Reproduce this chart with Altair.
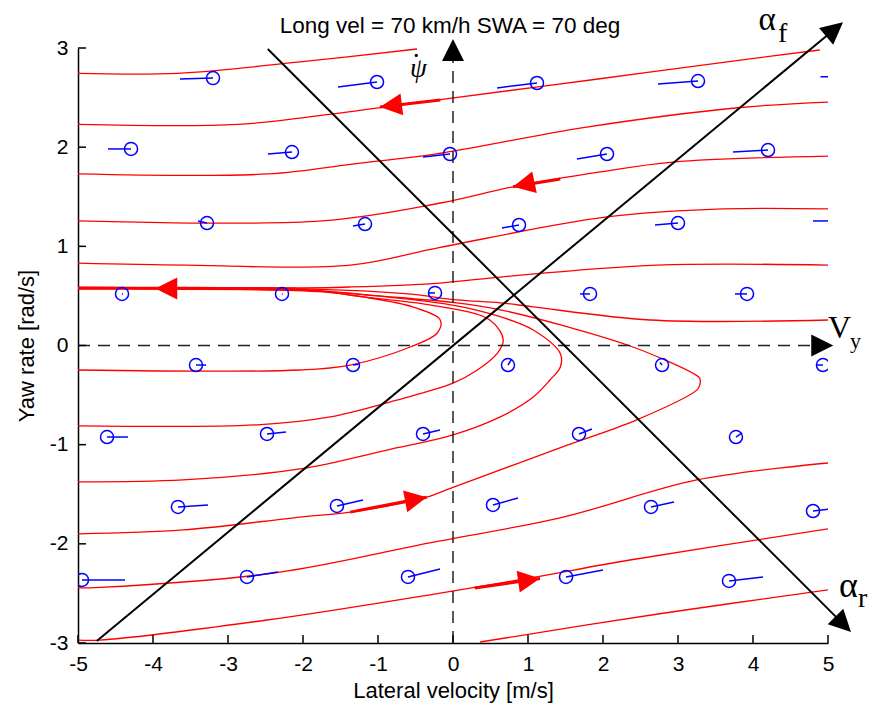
import altair as alt
import pandas as pd

TITLE = "Long vel = 70 km/h SWA = 70 deg"
X_TITLE = "Lateral velocity [m/s]"
Y_TITLE = "Yaw rate [rad/s]"
x_ticks = [-5, -4, -3, -2, -1, 0, 1, 2, 3, 4, 5]
y_ticks = [-3, -2, -1, 0, 1, 2, 3]

# ---- red phase trajectories (lateral velocity, yaw rate) ----
curve_A_x = [-5.0, -3.67, -2.04, -0.48]
curve_A_y = [2.745, 2.745, 2.86, 2.99]
curve_B_x = [-5.0, -2.87, -1.65, -0.17, 1.96, 3.96, 4.89]
curve_B_y = [2.23, 2.23, 2.33, 2.48, 2.69, 2.89, 2.98]
curve_C_x = [-5.0, -2.47, -1.24, -0.24, 1.76, 3.83, 5.0]
curve_C_y = [1.73, 1.73, 1.84, 1.93, 2.20, 2.40, 2.455]
curve_D_x = [-5.0, -1.75, -0.17, 0.8, 1.96, 2.93, 5.0]
curve_D_y = [1.256, 1.256, 1.437, 1.60, 1.75, 1.85, 1.91]
curve_E_x = [-5.0, -3.57, -1.37, -0.17, 2.05, 3.6, 5.0]
curve_E_y = [0.83, 0.81, 0.81, 0.99, 1.296, 1.377, 1.377]
curve_F_x = [-5.0, -2.0, -1.37, -0.17, 0.63, 2.72, 5.0]
curve_F_y = [0.585, 0.58, 0.59, 0.63, 0.69, 0.81, 0.81]
curve_G_x = [-5.0, -2.0, -0.6, 0.05, 0.63, 1.07, 2.63, 5.0]
curve_G_y = [0.58, 0.57, 0.52, 0.46, 0.43, 0.39, 0.257, 0.257]
curve_H_x = [-5.0, -3.6, -2.04, -1.37, -0.67, -0.35, 0.0, 1.47, 2.45, 3.25, 3.29,
             3.29, 3.2, 2.4, 1.52, 0.63, 0.05, -1.0, -2.0, -5.0]
curve_H_y = [-1.90, -1.86, -1.73, -1.68, -1.59, -1.53, -1.43, -1.02, -0.75, -0.45, -0.40,
             -0.33, -0.28, -0.015, 0.19, 0.36, 0.43, 0.50, 0.555, 0.575]
curve_I_x = [-5.0, -3.6, -2.04, -0.88, 0.0, 0.63, 1.07, 1.29, 1.43, 1.43, 1.07, 0.63,
             0.05, -1.0, -2.0, -5.0]
curve_I_y = [-1.376, -1.356, -1.245, -1.054, -0.902, -0.72, -0.52, -0.35, -0.22, -0.08,
             0.156, 0.29, 0.40, 0.50, 0.56, 0.57]
curve_J_x = [-5.0, -2.61, -1.64, -0.75, 0.0, 0.32, 0.59, 0.67, 0.49, -0.31, -1.2, -2.0, -5.0]
curve_J_y = [-0.81, -0.80, -0.72, -0.55, -0.38, -0.25, -0.08, 0.056, 0.257, 0.409, 0.49,
             0.565, 0.58]
curve_K_x = [-5.0, -2.04, -1.37, -0.57, -0.21, -0.17, -0.53, -1.2, -1.73, -5.0]
curve_K_y = [-0.247, -0.247, -0.197, -0.015, 0.126, 0.257, 0.388, 0.49, 0.54, 0.58]
curve_L_x = [-5.0, -4.71, -2.35, -0.31, 1.47, 3.25, 5.0]
curve_L_y = [-2.445, -2.44, -2.29, -1.99, -1.73, -1.356, -1.185]
curve_M_x = [-5.0, -4.71, -2.48, -0.17, 1.03, 2.36, 5.0]
curve_M_y = [-2.97, -2.97, -2.768, -2.496, -2.344, -2.163, -1.85]
curve_N_x = [0.36, 2.8, 5.0]
curve_N_y = [-2.99, -2.70, -2.465]

# ---- blue quiver glyphs: circle centre and tail end ----
quiver_x = [-3.2, -1.013, 1.12, 3.267, 5.43,
            -4.293, -2.147, -0.04, 2.053, 4.2,
            -3.28, -1.173, 0.88, 3.0, 5.2,
            -4.413, -2.28, -0.24, 1.827, 3.92,
            -3.427, -1.333, 0.733, 2.787, 4.933,
            -4.613, -2.48, -0.4, 1.68, 3.773,
            -3.667, -1.547, 0.533, 2.64, 4.8,
            -4.947, -2.747, -0.6, 1.507, 3.68]
quiver_y = [2.697, 2.657, 2.647, 2.667, 2.71,
            1.982, 1.951, 1.931, 1.931, 1.971,
            1.235, 1.225, 1.215, 1.235, 1.256,
            0.52, 0.52, 0.53, 0.52, 0.52,
            -0.197, -0.197, -0.197, -0.197, -0.197,
            -0.923, -0.892, -0.892, -0.892, -0.923,
            -1.628, -1.618, -1.608, -1.628, -1.669,
            -2.364, -2.334, -2.334, -2.334, -2.374]
tail_x = [-3.64, -1.533, 0.587, 2.733, 4.9,
          -4.6, -2.467, -0.4, 1.653, 3.733,
          -3.4, -1.333, 0.653, 2.693, 4.8,
          -4.40, -2.27, -0.32, 1.693, 3.76,
          -3.293, -1.26, 0.78, 2.76, 4.85,
          -4.333, -2.227, -0.173, 1.853, 3.853,
          -3.267, -1.2, 0.867, 2.947, 5.027,
          -4.373, -2.333, -0.173, 2.0, 4.133]
tail_y = [2.687, 2.607, 2.597, 2.637, 2.71,
          1.982, 1.931, 1.901, 1.881, 1.951,
          1.256, 1.205, 1.185, 1.215, 1.256,
          0.52, 0.52, 0.53, 0.52, 0.52,
          -0.197, -0.19, -0.14, -0.17, -0.197,
          -0.923, -0.872, -0.852, -0.842, -0.882,
          -1.608, -1.558, -1.538, -1.578, -1.649,
          -2.364, -2.284, -2.254, -2.264, -2.334]

# ---- red direction arrows ----
red_tip_x = [-0.973, 0.80, -3.97, -0.35, 1.16]
red_tip_y = [2.405, 1.60, 0.575, -1.53, -2.35]
red_angle = [173, 168, 180, 349, 352]
red_seg_x1 = [-0.973, 0.80, -5.0, -1.37, 0.29]
red_seg_y1 = [2.405, 1.60, 0.58, -1.68, -2.445]
red_seg_x2 = [-0.17, 1.43, -2.1, -0.35, 1.16]
red_seg_y2 = [2.476, 1.68, 0.57, -1.53, -2.35]

# ---- black slip lines and axes arrows ----
black_x1 = [-4.75, -2.47]
black_y1 = [-2.98, 2.99]
black_x2 = [5.12, 5.23]
black_y2 = [3.21, -2.83]
dash_x1 = [-5.0, 0.0]
dash_y1 = [0.0, -3.0]
dash_x2 = [4.97, 0.0]
dash_y2 = [0.0, 3.01]
black_tip_x = [5.2, 5.07, 5.307, 0.0]
black_tip_y = [3.26, 0.0, -2.89, 3.09]
black_angle = [320, 0, 45, 270]

# ---- annotations ----
ann_c_text = ["α", "α"]
ann_c_x = [4.19, 5.273]
ann_c_y = [3.18, -2.536]
ann_c_size = [33, 36]
ann_l_text = ["f", "V", "y", "r"]
ann_l_x = [4.333, 5.0, 5.293, 5.4]
ann_l_y = [3.06, 0.076, -0.025, -2.637]
ann_l_size = [28, 32, 22, 28]
psi_x, psi_y = [-0.46], [2.793]
psi_dot_x, psi_dot_y = [-0.49], [2.925]

# ---------------- build ----------------
curves = {
    "A": (curve_A_x, curve_A_y), "B": (curve_B_x, curve_B_y), "C": (curve_C_x, curve_C_y),
    "D": (curve_D_x, curve_D_y), "E": (curve_E_x, curve_E_y), "F": (curve_F_x, curve_F_y),
    "G": (curve_G_x, curve_G_y), "H": (curve_H_x, curve_H_y), "I": (curve_I_x, curve_I_y),
    "J": (curve_J_x, curve_J_y), "K": (curve_K_x, curve_K_y), "L": (curve_L_x, curve_L_y),
    "M": (curve_M_x, curve_M_y), "N": (curve_N_x, curve_N_y),
}
rows = []
for name, (xs_, ys_) in curves.items():
    for i, (a, b) in enumerate(zip(xs_, ys_)):
        rows.append({"c": name, "i": i, "x": a, "y": b})
red_df = pd.DataFrame(rows)

FONT = "Liberation Sans"
SERIF = "Liberation Serif"

xs = alt.Scale(domain=[-5, 5], nice=False, zero=False)
ys = alt.Scale(domain=[-3, 3], nice=False, zero=False)

x_axis = alt.Axis(values=x_ticks, labelExpr="'' + datum.value", ticks=False, tickSize=0,
                  grid=False, domainColor="black", domainWidth=1.5,
                  labelFont=FONT, labelFontSize=21, labelColor="black",
                  labelPadding=27, labelBaseline="alphabetic", labelFlush=False,
                  labelOverlap=False, title=X_TITLE, titleFont=FONT, titleFontSize=22,
                  titleFontWeight="normal", titleColor="black", titleX=375, titleY=54,
                  titleAlign="center", titleBaseline="alphabetic")
y_axis = alt.Axis(values=y_ticks, labelExpr="'' + datum.value", ticks=False, tickSize=0,
                  grid=False, domainColor="black", domainWidth=1.5,
                  labelFont=FONT, labelFontSize=21, labelColor="black",
                  labelPadding=10, labelAlign="right", labelBaseline="middle",
                  labelFlush=False, labelOverlap=False, title=Y_TITLE, titleFont=FONT,
                  titleFontSize=22, titleFontWeight="normal", titleColor="black",
                  titleX=-52, titleY=297.5, titleAngle=270, titleAlign="center",
                  titleBaseline="middle")


def X(f):
    return alt.X(f, type="quantitative", scale=xs, axis=x_axis)


def Y(f):
    return alt.Y(f, type="quantitative", scale=ys, axis=y_axis)


ARROW = "M0,0L-2,-1L-2,1Z"

xt = alt.Chart(pd.DataFrame({"x": x_ticks})).mark_rule(color="black", strokeWidth=1.5).encode(
    x=X("x"), y=alt.value(595), y2=alt.value(587))
yt = alt.Chart(pd.DataFrame({"y": y_ticks})).mark_rule(color="black", strokeWidth=1.5).encode(
    y=Y("y"), x=alt.value(0), x2=alt.value(8))

red = alt.Chart(red_df).mark_line(color="#ff0000", strokeWidth=1.3, clip=True,
                                  interpolate="catmull-rom").encode(
    x=X("x"), y=Y("y"), detail="c:N", order="i:Q")

red_seg = alt.Chart(pd.DataFrame({"x": red_seg_x1, "y": red_seg_y1, "x2": red_seg_x2,
                                  "y2": red_seg_y2})).mark_rule(
    color="#ff0000", strokeWidth=3).encode(x=X("x"), y=Y("y"), x2="x2", y2="y2")
red_head = alt.Chart(pd.DataFrame({"x": red_tip_x, "y": red_tip_y, "a": red_angle})).mark_point(
    shape=ARROW, filled=True, color="#ff0000", size=484, opacity=1).encode(
    x=X("x"), y=Y("y"), angle=alt.Angle("a:Q", scale=None))

q_df = pd.DataFrame({"x": quiver_x, "y": quiver_y, "x2": tail_x, "y2": tail_y})
q_line = alt.Chart(q_df).mark_rule(color="#0000ff", strokeWidth=1.5, clip=True).encode(
    x=X("x"), y=Y("y"), x2="x2", y2="y2")
q_circ = alt.Chart(q_df).mark_point(shape="circle", filled=False, color="#0000ff", size=170,
                                    strokeWidth=1.5, opacity=1, clip=True).encode(
    x=X("x"), y=Y("y"))

dashed = alt.Chart(pd.DataFrame({"x": dash_x1, "y": dash_y1, "x2": dash_x2, "y2": dash_y2})
                   ).mark_rule(color="#222222", strokeWidth=1.5, strokeDash=[12, 8]).encode(
    x=X("x"), y=Y("y"), x2="x2", y2="y2")
blk = alt.Chart(pd.DataFrame({"x": black_x1, "y": black_y1, "x2": black_x2, "y2": black_y2})
                ).mark_rule(color="black", strokeWidth=2).encode(
    x=X("x"), y=Y("y"), x2="x2", y2="y2")
blk_head = alt.Chart(pd.DataFrame({"x": black_tip_x, "y": black_tip_y, "a": black_angle})
                     ).mark_point(shape=ARROW, filled=True, color="black", size=484,
                                  opacity=1).encode(
    x=X("x"), y=Y("y"), angle=alt.Angle("a:Q", scale=None))

ann_c = alt.Chart(pd.DataFrame({"x": ann_c_x, "y": ann_c_y, "t": ann_c_text,
                                "s": ann_c_size})).mark_text(
    font=SERIF, align="center", baseline="alphabetic", color="black").encode(
    x=X("x"), y=Y("y"), text="t:N", size=alt.Size("s:Q", scale=None))
ann_l = alt.Chart(pd.DataFrame({"x": ann_l_x, "y": ann_l_y, "t": ann_l_text,
                                "s": ann_l_size})).mark_text(
    font=SERIF, align="left", baseline="alphabetic", color="black").encode(
    x=X("x"), y=Y("y"), text="t:N", size=alt.Size("s:Q", scale=None))
psi = alt.Chart(pd.DataFrame({"x": psi_x, "y": psi_y, "t": ["ψ"]})).mark_text(
    font=SERIF, fontSize=27, fontStyle="italic", align="center", baseline="middle",
    color="black").encode(x=X("x"), y=Y("y"), text="t:N")
psi_dot = alt.Chart(pd.DataFrame({"x": psi_dot_x, "y": psi_dot_y})).mark_point(
    shape="circle", filled=True, color="black", size=10, opacity=1).encode(x=X("x"), y=Y("y"))

title = alt.Chart(pd.DataFrame({"t": [TITLE]})).mark_text(
    font=FONT, fontSize=22.5, align="center", baseline="alphabetic", color="black").encode(
    text="t:N", x=alt.value(372), y=alt.value(-15))

chart = alt.layer(
    red, red_seg, red_head, q_line, q_circ, dashed, blk, blk_head, xt, yt,
    ann_c, ann_l, psi, psi_dot, title
).properties(
    width=750, height=595,
    padding={"left": 78, "top": 48, "right": 41, "bottom": 61},
    autosize=alt.AutoSizeParams(type="none"),
    background="white",
).configure_view(stroke=None)

chart.save("out.html", embed_options={"renderer": "svg", "actions": False})
